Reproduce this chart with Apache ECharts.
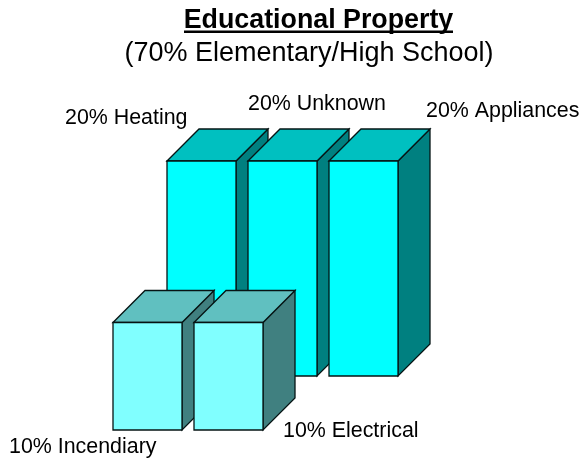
<!DOCTYPE html>
<html><head><meta charset="utf-8">
<style>html,body{margin:0;padding:0;background:#fff}#c{width:581px;height:459px}</style>
<script src="https://cdn.jsdelivr.net/npm/echarts@6/dist/echarts.min.js"></script>
</head><body><div id="c"></div>
<script>
const titleText = 'Educational Property';
const subtitleText = '(70% Elementary/High School)';
const backCategories = ['Heating', 'Unknown', 'Appliances'];
const backValues = [20, 20, 20];
const frontCategories = ['Incendiary', 'Electrical'];
const frontValues = [10, 10];

const chart = echarts.init(document.getElementById('c'), null, {renderer:'canvas'});
const DEPTH = 32, BAR_W = 69;
function renderBox(colors){
  return function(params, api){
    const base = api.coord([api.value(0), 0]);
    const top = api.coord([api.value(0), api.value(1)]);
    const l = base[0] - BAR_W/2, r = base[0] + BAR_W/2, b = base[1], t = top[1];
    const line = {stroke:'#061414', lineWidth:1.3};
    const poly = (pts, fill) => ({type:'polygon', shape:{points:pts}, style:Object.assign({fill:fill}, line)});
    return {type:'group', children:[
      poly([[r,t],[r+DEPTH,t-DEPTH],[r+DEPTH,b-DEPTH],[r,b]], colors.side),
      poly([[l,t],[l+DEPTH,t-DEPTH],[r+DEPTH,t-DEPTH],[r,t]], colors.top),
      poly([[l,t],[r,t],[r,b],[l,b]], colors.face)
    ]};
  };
}
const hiddenAxis = {show:false};
const lab = (value, name, x, y) => ({type:'text', x:x, y:y, z:10, style:{text:value+'% '+name, font:'21.4px "Liberation Sans", Arial, sans-serif', fill:'#000', verticalAlign:'middle'}});
chart.setOption({
  animation:false,
  backgroundColor:'#fff',
  grid:[
    {left:161, width:243, top:161, height:215},
    {left:107, width:162, top:215, height:215}
  ],
  xAxis:[
    Object.assign({type:'category', data:backCategories, gridIndex:0}, hiddenAxis),
    Object.assign({type:'category', data:frontCategories, gridIndex:1}, hiddenAxis)
  ],
  yAxis:[
    Object.assign({type:'value', min:0, max:20, gridIndex:0}, hiddenAxis),
    Object.assign({type:'value', min:0, max:20, gridIndex:1}, hiddenAxis)
  ],
  series:[
    {type:'custom', xAxisIndex:0, yAxisIndex:0, z:2,
     data:backValues.map((v,i)=>[i,v]), encode:{x:0,y:1},
     renderItem:renderBox({face:'#00ffff', top:'#00c0c0', side:'#008080'})},
    {type:'custom', xAxisIndex:1, yAxisIndex:1, z:3,
     data:frontValues.map((v,i)=>[i,v]), encode:{x:0,y:1},
     renderItem:renderBox({face:'#80ffff', top:'#60c0c0', side:'#408080'})}
  ],
  graphic:[
    {type:'text', x:318.5, y:21, z:10, style:{text:titleText, font:'bold 26.8px "Liberation Sans", Arial, sans-serif', fill:'#000', align:'center', verticalAlign:'middle'}},
    {type:'rect', shape:{x:184, y:30.5, width:269, height:2.5}, z:10, style:{fill:'#000'}},
    {type:'text', x:309, y:54, z:10, style:{text:subtitleText, font:'27px "Liberation Sans", Arial, sans-serif', fill:'#000', align:'center', verticalAlign:'middle'}},
    lab(backValues[0], backCategories[0], 65, 118),
    lab(backValues[1], backCategories[1], 248, 104),
    lab(backValues[2], backCategories[2], 426, 111),
    lab(frontValues[0], frontCategories[0], 9, 447),
    lab(frontValues[1], frontCategories[1], 283, 431)
  ]
});
</script></body></html>
